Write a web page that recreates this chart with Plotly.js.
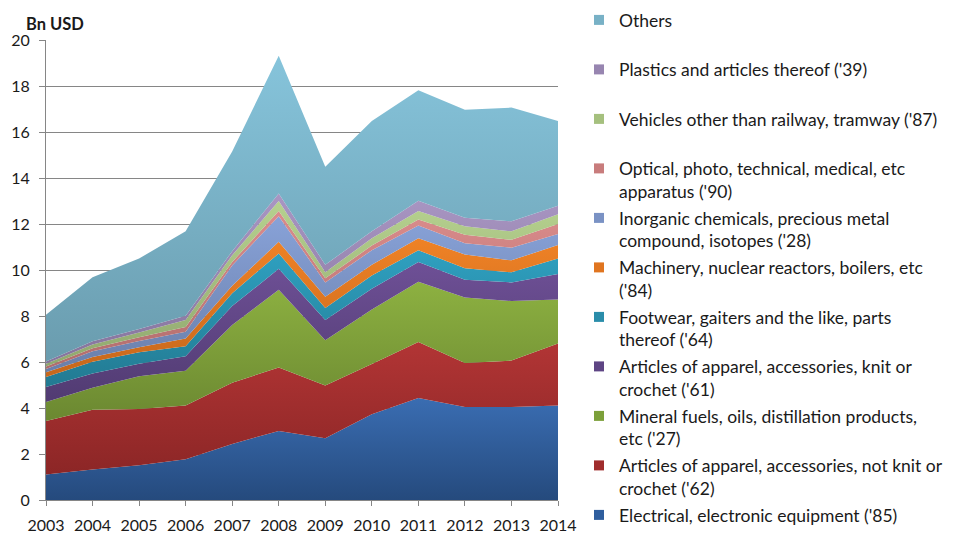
<!DOCTYPE html>
<html>
<head>
<meta charset="utf-8">
<script src="https://cdn.plot.ly/plotly-3.0.1.min.js"></script>
<style>html,body{margin:0;padding:0;background:#fff;}#chart{width:957px;height:533px;}</style>
</head>
<body>
<div id="chart"></div>
<script>
// ---- data (Bn USD) ----
const years = [2003, 2004, 2005, 2006, 2007, 2008, 2009, 2010, 2011, 2012, 2013, 2014];
const electrical   = [1.11, 1.33, 1.51, 1.77, 2.44, 3.00, 2.69, 3.73, 4.43, 4.04, 4.04, 4.11];
const apparelNotKnit = [2.33, 2.59, 2.45, 2.34, 2.66, 2.76, 2.29, 2.18, 2.44, 1.92, 2.02, 2.69];
const mineralFuels = [0.82, 0.96, 1.42, 1.51, 2.51, 3.38, 1.97, 2.37, 2.62, 2.84, 2.59, 1.92];
const apparelKnit  = [0.65, 0.62, 0.54, 0.63, 0.82, 0.91, 0.88, 0.91, 0.86, 0.78, 0.81, 1.11];
const footwear     = [0.44, 0.51, 0.50, 0.43, 0.56, 0.67, 0.52, 0.57, 0.51, 0.50, 0.44, 0.67];
const machinery    = [0.20, 0.21, 0.22, 0.34, 0.32, 0.51, 0.49, 0.47, 0.52, 0.59, 0.52, 0.59];
const inorganic    = [0.15, 0.25, 0.27, 0.30, 0.89, 1.11, 0.62, 0.63, 0.56, 0.49, 0.55, 0.47];
const optical      = [0.10, 0.13, 0.17, 0.20, 0.15, 0.22, 0.18, 0.20, 0.26, 0.37, 0.34, 0.44];
const vehicles     = [0.12, 0.16, 0.20, 0.31, 0.29, 0.44, 0.26, 0.32, 0.36, 0.37, 0.37, 0.42];
const plastics     = [0.10, 0.14, 0.15, 0.18, 0.18, 0.33, 0.33, 0.30, 0.45, 0.37, 0.44, 0.37];
const others       = [2.03, 2.78, 3.07, 3.67, 4.33, 5.99, 4.26, 4.80, 4.80, 4.70, 4.94, 3.69];

const seriesNames = [
  "Electrical, electronic equipment ('85)",
  "Articles of apparel, accessories, not knit or<br>crochet ('62)",
  "Mineral fuels, oils, distillation products,<br>etc ('27)",
  "Articles of apparel, accessories, knit or<br>crochet ('61)",
  "Footwear, gaiters and the like, parts<br>thereof ('64)",
  "Machinery, nuclear reactors, boilers, etc<br>('84)",
  "Inorganic chemicals, precious metal<br>compound, isotopes ('28)",
  "Optical, photo, technical, medical, etc<br>apparatus ('90)",
  "Vehicles other than railway, tramway ('87)<br>\u00a0",
  "Plastics and articles thereof ('39)<br>\u00a0",
  "Others<br>\u00a0"
];
const seriesValues = [electrical, apparelNotKnit, mineralFuels, apparelKnit, footwear,
  machinery, inorganic, optical, vehicles, plastics, others];

// ---- styles ----
const topColors = ['#3A6DB2', '#B23535', '#8DB141', '#6E5096', '#2FA0C0', '#EF8226',
  '#88A2D8', '#DA8C8C', '#B6D18F', '#A996C3', '#86C4DB'];
const bottomColors = ['#254A7D', '#8C2626', '#6B8831', '#513B72', '#227A92', '#C6671C',
  '#6A7FAA', '#B16C6C', '#90A86E', '#85749C', '#6A9CAE'];
const legendColors = ['#2F5E9E', '#A02D2D', '#7CA03A', '#5E4584', '#2A8DAA', '#E07520',
  '#7A92C4', '#C87C7C', '#A5C07E', '#9785B0', '#78B1C6'];

const traces = [];
// stacked areas
seriesValues.forEach(function (vals, i) {
  traces.push({
    type: 'scatter', x: years, y: vals, name: seriesNames[i].replace(/<br>.*/, ''),
    stackgroup: 'one', mode: 'none', line: {width: 0},
    fillcolor: legendColors[i],
    fillgradient: {type: 'vertical', colorscale: [[0, bottomColors[i]], [1, topColors[i]]]},
    showlegend: false, hoverinfo: 'x+y+name'
  });
});
// legend keys (top of stack first, as in the reference)
for (let i = seriesValues.length - 1; i >= 0; i--) {
  traces.push({
    type: 'scatter', x: [null], y: [null], name: seriesNames[i],
    mode: 'markers', marker: {symbol: 'square', size: 10, color: legendColors[i]},
    legendgroup: 'k' + i, showlegend: true, hoverinfo: 'skip'
  });
}

const FONT = 'Lato, "Open Sans", sans-serif';
const layout = {
  width: 957, height: 533,
  margin: {l: 46, r: 399, t: 40, b: 33, pad: 0, autoexpand: false},
  paper_bgcolor: '#fff', plot_bgcolor: '#fff',
  font: {family: FONT, size: 16, color: '#1a1a1a'},
  showlegend: true,
  legend: {
    xref: 'paper', x: 1.041, xanchor: 'left',
    yref: 'container', y: 0.9962, yanchor: 'top',
    traceorder: 'grouped', tracegroupgap: 1, maxheight: 2000,
    valign: 'top', font: {family: FONT, size: 17.5, color: '#1a1a1a'},
    bgcolor: 'rgba(0,0,0,0)', borderwidth: 0
  },
  xaxis: {
    range: [2003, 2014], tickvals: years, ticktext: years.map(String),
    showgrid: false, zeroline: false, showline: true, linecolor: '#868686', linewidth: 1,
    ticks: 'outside', ticklen: 5, tickcolor: '#868686', ticklabelstandoff: 6,
    tickfont: {family: FONT, size: 16, color: '#1a1a1a'}
  },
  yaxis: {
    range: [0, 20], dtick: 2, tick0: 0,
    showgrid: true, gridcolor: '#868686', gridwidth: 1, zeroline: false,
    showline: true, linecolor: '#868686', linewidth: 1,
    ticks: 'outside', ticklen: 6, tickcolor: '#868686', ticklabelstandoff: 6,
    tickfont: {family: FONT, size: 16, color: '#1a1a1a'}
  },
  annotations: [{
    text: '<b>Bn USD</b>', xref: 'paper', yref: 'paper', x: -0.043, y: 1.0, yshift: 16,
    xanchor: 'left', yanchor: 'middle', showarrow: false,
    font: {family: FONT, size: 16.5, color: '#1a1a1a'}
  }]
};

Plotly.newPlot('chart', traces, layout, {displayModeBar: false, staticPlot: true});
</script>
</body>
</html>
